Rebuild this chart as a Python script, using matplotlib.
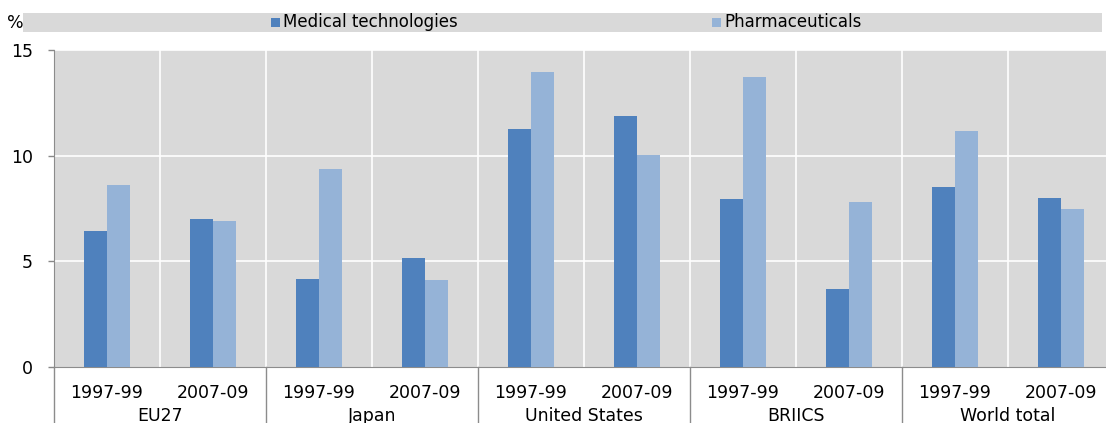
import numpy as np
import matplotlib
matplotlib.use("Agg")
import matplotlib.pyplot as plt
from matplotlib.patches import Rectangle
import matplotlib.transforms as mtransforms

# data
groups = ["EU27", "Japan", "United States", "BRIICS", "World total"]
periods = ["1997-99", "2007-09"]
medical_tech = [6.44, 7.0, 4.16, 5.16, 11.26, 11.88, 7.95, 3.69, 8.52, 8.0]
pharma = [8.59, 6.9, 9.37, 4.12, 13.96, 10.03, 13.72, 7.81, 11.17, 7.48]
series_names = ["Medical technologies", "Pharmaceuticals"]

# the reference text is wide, so DejaVu Sans fits it better than Arial metrics
plt.rcParams["font.family"] = ["DejaVu Sans"]
fs = 12.5

W, H = 1106, 423
fig = plt.figure(figsize=(W / 100, H / 100), dpi=100)

# plot area in pixels: x 54..1106, y 50..367
left, right, top, bottom = 54, 1106, 50, 367
ax = fig.add_axes([left / W, 1 - bottom / H, (right - left) / W, (bottom - top) / H])
ax.set_facecolor("#D9D9D9")

n = len(medical_tech)
x = np.arange(n)
bw = 0.217
c_med = "#4F81BD"
c_pha = "#95B3D7"
ax.bar(x - bw / 2, medical_tech, bw, color=c_med, zorder=3)
ax.bar(x + bw / 2, pharma, bw, color=c_pha, zorder=3)

# category width is 106 px; the right edge is cut by the image border
ax.set_xlim(-0.5, n - 0.5 - 8 / 106)
ax.set_ylim(0, 15)

ax.set_yticks([0, 5, 10, 15])
ax.set_yticklabels(["0", "5", "10", "15"], fontsize=fs)
ax.tick_params(axis="y", length=4, width=1, color="#888888", pad=11)

for yv in [5, 10, 15]:
    ax.axhline(yv, color="white", lw=1.2, zorder=1)
for xb in np.arange(0.5, n - 0.5, 1.0):
    ax.axvline(xb, color="white", lw=1.2, zorder=1)

for s in ["top", "right"]:
    ax.spines[s].set_visible(False)
ax.spines["left"].set_color("#8C8C8C")
ax.spines["bottom"].set_color("#8C8C8C")
ax.spines["left"].set_zorder(4)

ax.set_xticks(x)
ax.set_xticklabels([periods[i % 2] for i in range(n)], fontsize=fs)
ax.tick_params(axis="x", length=0, pad=12)

# group labels and separators below the axis
trans = mtransforms.blended_transform_factory(ax.transData, ax.transAxes)
axh = bottom - top
for gi, g in enumerate(groups):
    ax.text(2 * gi + 0.5, -(416 - bottom) / axh, g, transform=trans,
            ha="center", va="center", fontsize=fs)
for xb in np.arange(-0.5, n, 2.0):
    ax.plot([xb, xb], [0, -(H - bottom) / axh], transform=trans,
            color="#8C8C8C", lw=1, clip_on=False)

# legend band
fig.patches.append(Rectangle((23 / W, 1 - 32 / H), (1102 - 23) / W, 19 / H,
                             transform=fig.transFigure, facecolor="#D9D9D9",
                             edgecolor="none"))
fig.text(15 / W, 1 - 23 / H, "%", fontsize=fs, ha="center", va="center")
for name, col, px in zip(series_names, [c_med, c_pha], [271, 712]):
    fig.patches.append(Rectangle((px / W, 1 - 27 / H), 9 / W, 9 / H,
                                 transform=fig.transFigure, facecolor=col,
                                 edgecolor="none"))
    fig.text((px + 12) / W, 1 - 22 / H, name, fontsize=12, ha="left", va="center")

fig.savefig("out.png", dpi=100)
